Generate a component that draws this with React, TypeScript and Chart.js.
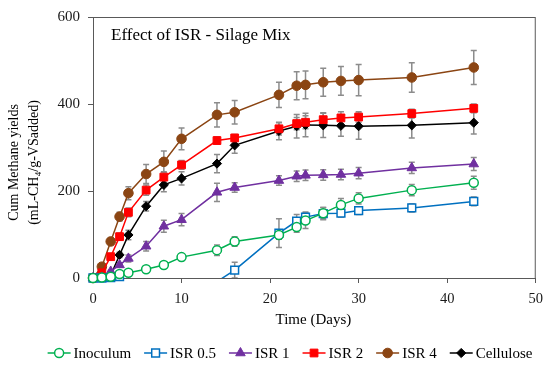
import React, { useEffect, useRef } from 'react';
import { Chart, registerables } from 'chart.js';
import { drawPoint } from 'chart.js/helpers';

Chart.register(...registerables);

// ---- data ----
const days = [0, 1, 2, 3, 4, 6, 8, 10, 14, 16, 21, 23, 24, 26, 28, 30, 36, 43];
const seriesNames = ['Inoculum', 'ISR 0.5', 'ISR 1', 'ISR 2', 'ISR 4', 'Cellulose'];

const inoculum = [0, 1, 3, 9, 12, 20, 30, 48, 64, 84, 99, 117, 132, 149, 168, 183, 202, 219];
const inoculumErr = [0, 1, 2, 2, 3, 5, 7, 8, 12, 11, 10, 12, 18, 13, 15, 13, 13, 15];

const isr05 = [0, 0, 1, 3, null, null, null, null, -8.5, 18, 103, 131, 140, 148, 149, 155, 161, 176];
const isr05Err = [0, 0, 1, 1, 0, 0, 0, 0, 0, 18, 33, 15, 12, 14, 9, 9, 9, 10];

const isr1 = [0, 1, 15, 30, 45, 73, 119, 134, 197, 208, 224, 234, 236, 237, 238, 241, 253, 262];
const isr1Err = [0, 1, 3, 5, 8, 11, 14, 14, 21, 11, 11, 12, 12, 12, 12, 13, 13, 15];

const isr2 = [0, 12, 49, 95, 151, 202, 232, 260, 316, 322, 343, 355, 358, 364, 368, 370, 378, 390];
const isr2Err = [0, 3, 6, 8, 10, 12, 12, 10, 8, 8, 14, 14, 15, 16, 14, 12, 10, 10];

const isr4 = [0, 26, 84, 141, 195, 239, 267, 320, 375, 381, 421, 442, 444, 450, 453, 455, 461, 484];
const isr4Err = [0, 5, 8, 10, 15, 22, 25, 25, 28, 27, 29, 32, 32, 32, 33, 36, 34, 39];

const cellulose = [0, 2, 6, 53, 99, 165, 214, 229, 263, 305, 338, 349, 352, 351, 350, 349, 351, 357];
const celluloseErr = [0, 1, 3, 6, 11, 11, 16, 15, 21, 18, 20, 27, 27, 28, 24, 30, 29, 26];

const seriesValues = [inoculum, isr05, isr1, isr2, isr4, cellulose];
const seriesErrors = [inoculumErr, isr05Err, isr1Err, isr2Err, isr4Err, celluloseErr];

const chartTitle = 'Effect of ISR - Silage Mix';
const xTitle = 'Time (Days)';
const yTitle = ['Cum Methane yields', '(mL-CH\u2084/g-VSadded)'];

// ---- styles ----
const styles = [
  { color: '#00b050', fill: '#ffffff', pointStyle: 'circle', radius: 4.5 },
  { color: '#0070c0', fill: '#ffffff', pointStyle: 'rect', radius: 5.5 },
  { color: '#7030a0', fill: '#7030a0', pointStyle: 'triangle', radius: 5.5 },
  { color: '#ff0000', fill: '#ff0000', pointStyle: 'rect', radius: 5.5 },
  { color: '#8b4513', fill: '#8b4513', pointStyle: 'circle', radius: 4.8 },
  { color: '#000000', fill: '#000000', pointStyle: 'rectRot', radius: 4.6 },
];

const FONT = '"Liberation Serif", "Times New Roman", serif';
const AXIS_COLOR = '#595959';

// colour that fades to transparent below the x axis (segments coming up from below zero)
function aboveAxisColor(chart: any, color: string) {
  const area = chart.chartArea;
  if (!area) return color;
  const g = chart.ctx.createLinearGradient(0, area.bottom, 0, area.bottom + 1);
  g.addColorStop(0, color);
  g.addColorStop(0.5, 'rgba(0,0,0,0)');
  g.addColorStop(1, 'rgba(0,0,0,0)');
  return g;
}

const decorPlugin = {
  id: 'decor',
  beforeDatasetsDraw(chart: any) {
    const { ctx, chartArea, scales } = chart;
    const x = scales.x;
    const y = scales.y;
    // frame
    ctx.save();
    ctx.strokeStyle = AXIS_COLOR;
    ctx.lineWidth = 1;
    ctx.strokeRect(chartArea.left + 0.5, chartArea.top + 0.5, chartArea.width - 1, chartArea.height);
    ctx.restore();
    // error bars
    ctx.save();
    ctx.beginPath();
    ctx.rect(chartArea.left - 5, chartArea.top - 10, chartArea.width + 10, chartArea.height + 10);
    ctx.clip();
    ctx.strokeStyle = '#8c8c8c';
    ctx.lineWidth = 1.5;
    chart.data.datasets.forEach((ds: any) => {
      const errs = ds.errors as number[];
      ds.data.forEach((p: any, i: number) => {
        if (p.y == null || p.y < 0) return;
        const e = errs[i];
        if (!e) return;
        const px = x.getPixelForValue(p.x);
        const y1 = y.getPixelForValue(p.y + e);
        const y2 = y.getPixelForValue(p.y - e);
        ctx.beginPath();
        ctx.moveTo(px, y1);
        ctx.lineTo(px, y2);
        ctx.moveTo(px - 3, y1);
        ctx.lineTo(px + 3, y1);
        ctx.moveTo(px - 3, y2);
        ctx.lineTo(px + 3, y2);
        ctx.stroke();
      });
    });
    ctx.restore();
  },
  afterDraw(chart: any) {
    const { ctx, chartArea } = chart;
    ctx.save();
    ctx.fillStyle = '#000';
    // chart title inside plot
    ctx.font = '17px ' + FONT;
    ctx.textAlign = 'left';
    ctx.textBaseline = 'alphabetic';
    ctx.fillText(chartTitle, chartArea.left + 18, chartArea.top + 23);
    // x title
    ctx.font = '15px ' + FONT;
    ctx.textAlign = 'center';
    ctx.fillText(xTitle, (chartArea.left + chartArea.right) / 2 - 1, chartArea.bottom + 46);
    // y title
    ctx.font = '14px ' + FONT;
    const cy = (chartArea.top + chartArea.bottom) / 2 + 15;
    yTitle.forEach((t, i) => {
      ctx.save();
      ctx.translate(18 + i * 19.5, cy);
      ctx.rotate(-Math.PI / 2);
      ctx.textAlign = 'center';
      ctx.textBaseline = 'alphabetic';
      ctx.fillText(t, 0, 0);
      ctx.restore();
    });
    // legend
    ctx.font = '15px ' + FONT;
    const widths = seriesNames.map((n) => ctx.measureText(n).width);
    const lineLen = 23;
    const gapText = 3;
    const gapItem = 13;
    const total = widths.reduce((a, w) => a + lineLen + gapText + w, 0) + gapItem * (seriesNames.length - 1);
    let xx = 290 - total / 2;
    const ly = chartArea.bottom + 75;
    seriesNames.forEach((name, i) => {
      const st = styles[i];
      ctx.strokeStyle = st.color;
      ctx.lineWidth = 1.5;
      ctx.beginPath();
      ctx.moveTo(xx, ly);
      ctx.lineTo(xx + lineLen, ly);
      ctx.stroke();
      ctx.fillStyle = st.fill;
      ctx.strokeStyle = st.color;
      ctx.lineWidth = st.fill === '#ffffff' ? 1.5 : 1;
      drawPoint(ctx, { pointStyle: st.pointStyle, radius: st.radius, rotation: 0, borderWidth: ctx.lineWidth } as any, xx + lineLen / 2, ly);
      ctx.fillStyle = '#000';
      ctx.textAlign = 'left';
      ctx.textBaseline = 'middle';
      ctx.fillText(name, xx + lineLen + gapText, ly + 1);
      xx += lineLen + gapText + widths[i] + gapItem;
    });
    ctx.restore();
  },
};

export default function App() {
  const ref = useRef<HTMLCanvasElement | null>(null);

  useEffect(() => {
    if (!ref.current) return;
    const datasets = seriesNames.map((name, si) => {
      const st = styles[si];
      return {
        label: name,
        data: days.map((d, i) => ({ x: d, y: seriesValues[si][i] })),
        errors: seriesErrors[si],
        borderColor: st.color,
        backgroundColor: st.fill,
        borderWidth: 1.5,
        pointStyle: st.pointStyle,
        pointRadius: (c: any) => (c.parsed && c.parsed.y < 0 ? 0 : st.radius),
        pointBackgroundColor: st.fill,
        pointBorderColor: st.color,
        pointBorderWidth: st.fill === '#ffffff' ? 1.5 : 1,
        tension: 0,
        spanGaps: false,
        clip: { left: 10, top: 10, right: 10, bottom: 6 },
        segment: {
          borderColor: (c: any) =>
            c.p0.parsed.y < 0 || c.p1.parsed.y < 0 ? aboveAxisColor(c.chart, st.color) : undefined,
        },
      };
    });

    const chart = new Chart(ref.current, {
      type: 'line',
      data: { datasets } as any,
      options: {
        responsive: false,
        animation: false,
        devicePixelRatio: 1,
        events: [],
        layout: { padding: { left: 0, right: 12, top: 15, bottom: 0 } },
        plugins: {
          legend: { display: false },
          tooltip: { enabled: false },
          title: { display: false },
        },
        scales: {
          x: {
            type: 'linear',
            min: 0,
            max: 50,
            afterFit: (s: any) => {
              s.height = 87;
            },
            ticks: {
              stepSize: 10,
              color: '#1a1a1a',
              padding: 7,
              font: { family: FONT, size: 14.5 },
              maxRotation: 0,
            },
            grid: {
              display: true,
              drawOnChartArea: false,
              drawTicks: true,
              tickLength: 5,
              color: AXIS_COLOR,
            },
            border: { display: true, color: AXIS_COLOR, width: 1 },
          },
          y: {
            type: 'linear',
            min: 0,
            max: 600,
            afterFit: (s: any) => {
              s.width = 93;
            },
            ticks: {
              stepSize: 200,
              color: '#1a1a1a',
              padding: 8,
              font: { family: FONT, size: 15 },
            },
            grid: {
              display: true,
              drawOnChartArea: false,
              drawTicks: true,
              tickLength: 5,
              color: AXIS_COLOR,
            },
            border: { display: true, color: AXIS_COLOR, width: 1 },
          },
        },
      } as any,
      plugins: [decorPlugin],
    });
    return () => chart.destroy();
  }, []);

  return (
    <div style={{ position: 'fixed', left: 0, top: 0, width: 550, height: 365, background: '#fff' }}>
      <canvas ref={ref} width={550} height={365} style={{ width: 550, height: 365, display: 'block' }} />
    </div>
  );
}
